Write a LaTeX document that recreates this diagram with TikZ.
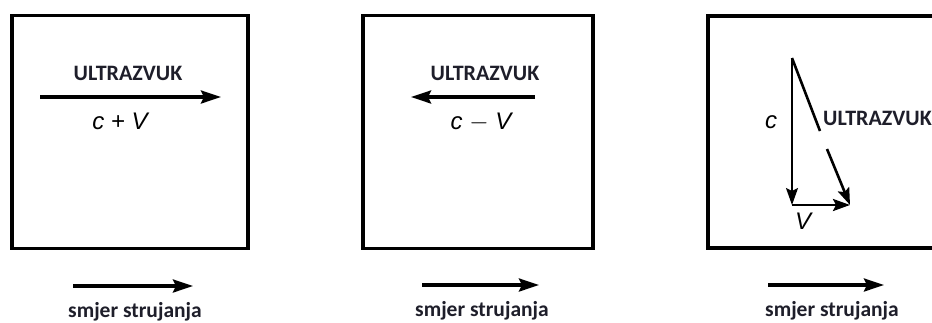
\documentclass[tikz,border=0pt]{standalone}
\usepackage{fontspec}
\setmainfont{Carlito}
\newfontfamily\varfont{Liberation Sans}
\usetikzlibrary{arrows.meta}
\definecolor{txt}{HTML}{1E1E2A}
\tikzset{
  panel/.style={draw=black, line width=3.2pt, fill=none, inner sep=0pt},
  bigarrow/.style={line width=3.2pt, -{Stealth[length=20pt,width=13pt,inset=3pt]}},
  midarrow/.style={line width=2.6pt, -{Stealth[length=17pt,width=12pt,inset=3pt]}},
  ulabel/.style={font=\fontsize{22}{22}\selectfont\bfseries, text=txt, inner sep=0pt},
  flabel/.style={font=\fontsize{21.5}{21.5}\selectfont\bfseries, text=txt, inner sep=0pt},
  vlabel/.style={font=\varfont\itshape\fontsize{24}{24}\selectfont, text=black, inner sep=0pt},
}
\begin{document}
\begin{tikzpicture}[x=1pt,y=-1pt]
\useasboundingbox (0,0) rectangle (932,322);
\clip (0,0) rectangle (932,322);
\fill[white] (0,0) rectangle (932,322);
% panel 1
\node[panel, minimum width=236pt, minimum height=233pt] (b1) at (130,132) {};
\coordinate (a1s) at (40,97);
\coordinate (a1e) at (221,97);
\draw[bigarrow] (a1s) -- (a1e);
\node[ulabel] (u1) at (128,73) {ULTRAZVUK};
\node[vlabel] (v1) at (120,121) {c + V};
\coordinate (f1s) at (73,286);
\coordinate (f1e) at (193,286);
\draw[bigarrow] (f1s) -- (f1e);
\node[flabel] (s1) at (135,312) {smjer strujanja};
% panel 2
\node[panel, minimum width=230pt, minimum height=233pt] (b2) at (478,132) {};
\coordinate (a2s) at (535,97);
\coordinate (a2e) at (411,97);
\draw[bigarrow] (a2s) -- (a2e);
\node[ulabel] (u2) at (485,73) {ULTRAZVUK};
\node[vlabel] (v2) at (481,122) {c $-$ V};
\coordinate (f2s) at (422,285);
\coordinate (f2e) at (539,285);
\draw[bigarrow] (f2s) -- (f2e);
\node[flabel] (s2) at (482,311) {smjer strujanja};
% panel 3
\node[panel, minimum width=240pt, minimum height=232pt] (b3) at (828,132) {};
\coordinate (top) at (792,58);
\coordinate (corner) at (792,205);
\coordinate (tip) at (850,205);
\coordinate (d1) at (820,131);
\coordinate (d2) at (827,149);
\draw[midarrow, line width=2pt] (top) -- (corner);
\draw[midarrow] (corner) -- (tip);
\draw[line width=2.6pt] (top) -- (d1);
\draw[midarrow] (d2) -- (tip);
\node[ulabel, anchor=west] (u3) at (823,118) {ULTRAZVUK};
\node[vlabel] (c3) at (771,122) {c};
\node[vlabel] (v3) at (803,221) {V};
\coordinate (f3s) at (768,285);
\coordinate (f3e) at (884,285);
\draw[bigarrow] (f3s) -- (f3e);
\node[flabel] (s3) at (832,311) {smjer strujanja};
\end{tikzpicture}
\end{document}
